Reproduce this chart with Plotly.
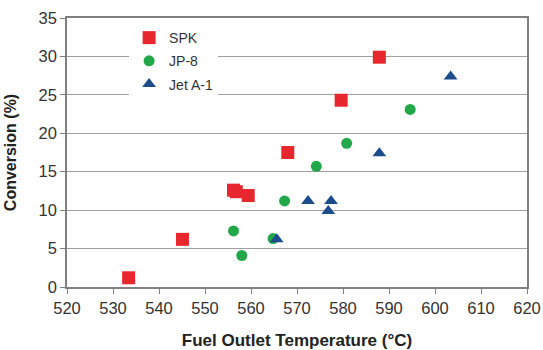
import plotly.graph_objects as go

spk_x = [533.4, 545.1, 556.2, 556.8, 559.4, 568.0, 579.6, 587.9]
spk_y = [1.2, 6.2, 12.6, 12.4, 11.9, 17.5, 24.3, 29.9]

jp8_x = [556.2, 558.0, 564.8, 567.3, 574.2, 580.8, 594.6]
jp8_y = [7.3, 4.1, 6.3, 11.2, 15.7, 18.7, 23.1]

jet_x = [565.6, 572.4, 577.4, 576.8, 587.9, 603.4]
jet_y = [6.2, 11.2, 11.2, 9.9, 17.4, 27.4]

x_ticks = [520, 530, 540, 550, 560, 570, 580, 590, 600, 610, 620]
y_ticks = [0, 5, 10, 15, 20, 25, 30, 35]

FONT = "Liberation Sans, Arial, sans-serif"

fig = go.Figure()
fig.add_trace(go.Scatter(x=spk_x, y=spk_y, mode="markers", name="SPK", legendgroup="a",
                         marker=dict(symbol="square", size=13, color="#e8262d")))
fig.add_trace(go.Scatter(x=jp8_x, y=jp8_y, mode="markers", name="JP-8", legendgroup="b",
                         marker=dict(symbol="circle", size=11, color="#22a84a")))
fig.add_trace(go.Scatter(x=jet_x, y=jet_y, mode="markers", name="Jet A-1", legendgroup="c",
                         marker=dict(symbol="triangle-up", size=12, color="#1c4c8a")))

fig.update_layout(
    width=543, height=350,
    margin=dict(l=67, r=16, t=18, b=63, autoexpand=False),
    paper_bgcolor="white", plot_bgcolor="white",
    font=dict(family=FONT, color="#333333", size=14),
    showlegend=True,
    legend=dict(x=0.135, y=0.985, xanchor="left", yanchor="top",
                bgcolor="white", borderwidth=0, traceorder="grouped",
                font=dict(size=14, color="#333333", family=FONT),
                itemwidth=30, tracegroupgap=2),
    xaxis=dict(range=[520, 620], tickvals=x_ticks, showgrid=False, zeroline=False,
               automargin=False,
               showline=True, linecolor="#808080", linewidth=1.5, mirror=True,
               ticks="outside", ticklen=5, tickcolor="#808080",
               tickfont=dict(size=16.5, color="#333333"),
               title=dict(text="<b>Fuel Outlet Temperature (°C)</b>", font=dict(size=17, color="#222222"), standoff=20)),
    yaxis=dict(range=[0, 35], tickvals=y_ticks, showgrid=True, gridcolor="#a0a0a0", gridwidth=1,
               zeroline=False, showline=True, linecolor="#808080", linewidth=1.5, mirror=True,
               automargin=False,
               ticks="outside", ticklen=5, tickcolor="#808080",
               tickfont=dict(size=16.5, color="#333333"),
               title=dict(text="<b>Conversion (%)</b>", font=dict(size=16, color="#222222"), standoff=18)),
)

fig.write_html("out.html", config={"displayModeBar": False},
               post_script="document.body.style.margin='0px';")
